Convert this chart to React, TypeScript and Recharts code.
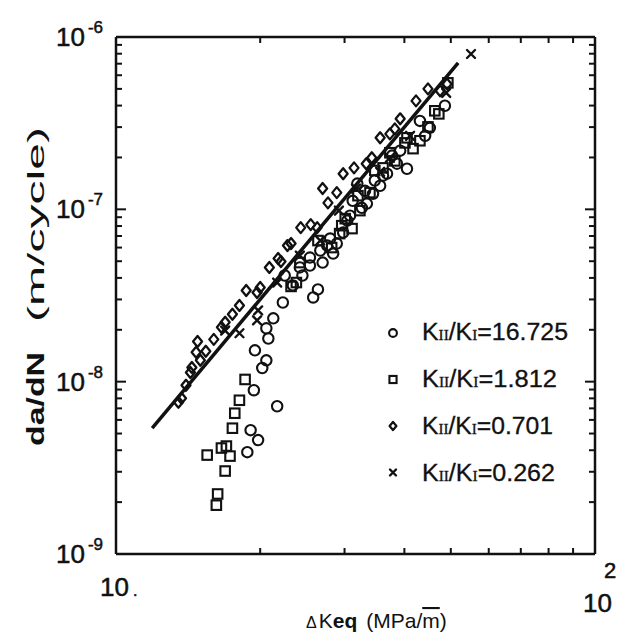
import { ScatterChart, Scatter, XAxis, YAxis, Legend } from "recharts";

// axis ticks (log decades with minor marks)
const X_TICKS = [10, 20, 30, 40, 50, 60, 70, 80, 90, 100];
const Y_TICKS = [
  1e-9, 2e-9, 3e-9, 4e-9, 5e-9, 6e-9, 7e-9, 8e-9, 9e-9,
  1e-8, 2e-8, 3e-8, 4e-8, 5e-8, 6e-8, 7e-8, 8e-8, 9e-8,
  1e-7, 2e-7, 3e-7, 4e-7, 5e-7, 6e-7, 7e-7, 8e-7, 9e-7,
  1e-6,
];

// KII/KI = 16.725
const CIRCLES = [
  { x: 18.8, y: 3.9e-9 }, { x: 19.1, y: 5.23e-9 }, { x: 19.8, y: 4.58e-9 },
  { x: 21.7, y: 7.2e-9 }, { x: 19.4, y: 8.92e-9 }, { x: 20.2, y: 1.2e-8 },
  { x: 20.6, y: 1.33e-8 }, { x: 19.5, y: 1.52e-8 }, { x: 20.8, y: 1.78e-8 },
  { x: 20.6, y: 2.04e-8 }, { x: 21.3, y: 2.33e-8 }, { x: 22.3, y: 2.88e-8 },
  { x: 23.4, y: 3.62e-8 }, { x: 24.5, y: 4.13e-8 }, { x: 25.8, y: 3.08e-8 },
  { x: 26.4, y: 3.43e-8 }, { x: 27.0, y: 4.91e-8 }, { x: 28.4, y: 5.54e-8 },
  { x: 24.2, y: 4.6e-8 }, { x: 25.4, y: 5.25e-8 }, { x: 28.9, y: 6.33e-8 },
  { x: 29.8, y: 7.33e-8 }, { x: 30.4, y: 8.6e-8 }, { x: 31.2, y: 1.12e-7 },
  { x: 31.9, y: 1.41e-7 }, { x: 32.6, y: 1.02e-7 }, { x: 33.4, y: 1.08e-7 },
  { x: 34.4, y: 1.23e-7 }, { x: 36.8, y: 1.61e-7 }, { x: 37.7, y: 2.05e-7 },
  { x: 38.6, y: 1.84e-7 }, { x: 40.5, y: 1.72e-7 }, { x: 43.1, y: 3.26e-7 },
  { x: 45.2, y: 2.97e-7 }, { x: 27.6, y: 6.16e-8 }, { x: 35.6, y: 1.37e-7 },
  { x: 22.5, y: 4.13e-8 }, { x: 36.1, y: 1.57e-7 }, { x: 34.7, y: 1.47e-7 },
  { x: 33.1, y: 1.28e-7 }, { x: 30.8, y: 9.19e-8 }, { x: 28.0, y: 6.77e-8 },
  { x: 26.7, y: 5.77e-8 }, { x: 25.4, y: 4.72e-8 }, { x: 39.2, y: 2.19e-7 },
  { x: 44.2, y: 2.67e-7 }, { x: 48.6, y: 3.99e-7 },
];

// KII/KI = 1.812
const SQUARES = [
  { x: 15.5, y: 3.75e-9 }, { x: 16.6, y: 4.12e-9 }, { x: 17.0, y: 4.23e-9 },
  { x: 17.3, y: 3.7e-9 }, { x: 16.9, y: 3.03e-9 }, { x: 16.3, y: 2.23e-9 },
  { x: 16.2, y: 1.92e-9 }, { x: 17.5, y: 5.37e-9 }, { x: 17.7, y: 6.56e-9 },
  { x: 18.1, y: 7.8e-9 }, { x: 18.6, y: 1.03e-8 }, { x: 23.2, y: 3.57e-8 },
  { x: 28.2, y: 6.0e-8 }, { x: 29.3, y: 7.23e-8 }, { x: 30.1, y: 8.83e-8 },
  { x: 32.3, y: 9.83e-8 }, { x: 33.9, y: 1.25e-7 }, { x: 36.1, y: 1.74e-7 },
  { x: 40.5, y: 2.6e-7 }, { x: 41.7, y: 2.25e-7 }, { x: 44.8, y: 3.01e-7 },
  { x: 47.2, y: 3.58e-7 }, { x: 49.3, y: 5.42e-7 }, { x: 31.1, y: 7.73e-8 },
  { x: 23.8, y: 3.76e-8 }, { x: 38.2, y: 1.91e-7 }, { x: 43.1, y: 2.5e-7 },
  { x: 32.0, y: 1.2e-7 }, { x: 34.7, y: 1.68e-7 }, { x: 37.3, y: 2.13e-7 },
  { x: 40.1, y: 2.43e-7 }, { x: 46.3, y: 3.73e-7 }, { x: 26.4, y: 6.59e-8 },
  { x: 24.2, y: 4.91e-8 }, { x: 29.6, y: 8.04e-8 },
];

// KII/KI = 0.701
const DIAMONDS = [
  { x: 13.7, y: 8.02e-9 }, { x: 14.3, y: 1.13e-8 }, { x: 14.4, y: 1.21e-8 },
  { x: 14.8, y: 1.71e-8 }, { x: 15.4, y: 1.5e-8 }, { x: 16.0, y: 1.76e-8 },
  { x: 16.6, y: 2.07e-8 }, { x: 17.5, y: 2.46e-8 }, { x: 18.7, y: 3.38e-8 },
  { x: 19.7, y: 3.29e-8 }, { x: 20.9, y: 4.6e-8 }, { x: 22.1, y: 4.98e-8 },
  { x: 23.2, y: 6.33e-8 }, { x: 24.3, y: 7.83e-8 }, { x: 25.5, y: 8.15e-8 },
  { x: 27.0, y: 1.32e-7 }, { x: 28.9, y: 1.25e-7 }, { x: 29.8, y: 1.61e-7 },
  { x: 31.4, y: 1.74e-7 }, { x: 33.3, y: 1.84e-7 }, { x: 34.2, y: 1.99e-7 },
  { x: 35.6, y: 2.6e-7 }, { x: 37.3, y: 2.74e-7 }, { x: 39.2, y: 3.35e-7 },
  { x: 42.3, y: 4.26e-7 }, { x: 44.8, y: 5.0e-7 }, { x: 49.1, y: 5.34e-7 },
  { x: 20.0, y: 3.52e-8 }, { x: 22.8, y: 6.16e-8 }, { x: 26.3, y: 7.83e-8 },
  { x: 27.7, y: 1.09e-7 }, { x: 18.1, y: 2.77e-8 }, { x: 16.9, y: 2.21e-8 },
  { x: 15.0, y: 1.33e-8 }, { x: 13.5, y: 7.6e-9 }, { x: 14.0, y: 9.53e-9 },
  { x: 14.7, y: 1.48e-8 }, { x: 21.8, y: 5.18e-8 }, { x: 38.2, y: 2.93e-7 },
  { x: 47.5, y: 4.87e-7 },
];

// KII/KI = 0.262
const CROSSES = [
  { x: 18.1, y: 1.91e-8 }, { x: 19.7, y: 2.27e-8 }, { x: 21.7, y: 3.76e-8 },
  { x: 29.2, y: 9.83e-8 }, { x: 31.7, y: 1.32e-7 }, { x: 35.6, y: 1.65e-7 },
  { x: 37.3, y: 1.99e-7 }, { x: 41.1, y: 2.67e-7 }, { x: 48.9, y: 4.74e-7 },
  { x: 55.1, y: 7.97e-7 }, { x: 24.2, y: 5.39e-8 }, { x: 26.7, y: 6.59e-8 },
  { x: 19.8, y: 2.59e-8 }, { x: 16.9, y: 1.98e-8 },
];

// fitted line end points
const FIT = [
  { x: 11.9, y: 5.37e-9 },
  { x: 51.8, y: 7.07e-7 },
];

const LEGEND_RATIOS = ["16.725", "1.812", "0.701", "0.262"];
const LEGEND_SHAPES = ["circle", "square", "diamond", "cross"];

const INK = "#111";
const SANS = "'Liberation Sans', Arial, sans-serif";
const SERIF = "'Liberation Serif', 'Times New Roman', serif";

function Marker({ kind, cx, cy, size = 1 }: { kind: string; cx: number; cy: number; size?: number }) {
  const sw = 2.1;
  if (kind === "circle") {
    return <circle cx={cx} cy={cy} r={5.2 * size} fill="none" stroke={INK} strokeWidth={sw} />;
  }
  if (kind === "square") {
    const s = 9.5 * size;
    return <rect x={cx - s / 2} y={cy - s / 2} width={s} height={s} fill="none" stroke={INK} strokeWidth={sw} />;
  }
  if (kind === "diamond") {
    const w = 4.5 * size, h = 5.5 * size;
    return (
      <path
        d={`M${cx},${cy - h} L${cx + w},${cy} L${cx},${cy + h} L${cx - w},${cy} Z`}
        fill="none" stroke={INK} strokeWidth={sw + 0.2} strokeLinejoin="round"
      />
    );
  }
  const s = 4 * size;
  return (
    <path
      d={`M${cx - s},${cy - s} L${cx + s},${cy + s} M${cx + s},${cy - s} L${cx - s},${cy + s}`}
      stroke={INK} strokeWidth={sw + 0.3} strokeLinecap="round"
    />
  );
}

const isDecade = (v: number) => Math.abs(Math.log10(v) - Math.round(Math.log10(v))) < 1e-6;

function LeftTick(props: any) {
  const { x, y, payload } = props;
  const v = payload.value;
  const major = isDecade(v);
  return (
    <g>
      <line x1={x} x2={x + (major ? 10 : 6)} y1={y} y2={y} stroke={INK} strokeWidth={2} />
      {major && (
        <text x={x - 13} y={y + 9} textAnchor="end" fontFamily={SANS} fill={INK} stroke={INK} strokeWidth={0.5}>
          <tspan fontSize={26}>10</tspan>
          <tspan fontSize={17} dx={3} dy={-13}>{`-${-Math.round(Math.log10(v))}`}</tspan>
        </text>
      )}
    </g>
  );
}

function RightTick(props: any) {
  const { x, y, payload } = props;
  const major = isDecade(payload.value);
  return <line x1={x} x2={x - (major ? 10 : 6)} y1={y} y2={y} stroke={INK} strokeWidth={2} />;
}

function BottomTick(props: any) {
  const { x, y, payload } = props;
  const v = payload.value;
  const edge = v === X_TICKS[0] || v === X_TICKS[X_TICKS.length - 1];
  return (
    <g>
      {!edge && <line x1={x} x2={x} y1={y} y2={y - 6} stroke={INK} strokeWidth={2} />}
      {v === X_TICKS[0] && (
        <text x={x - 16} y={y + 42} fontFamily={SANS} fontSize={26} fill={INK} stroke={INK} strokeWidth={0.5}>
          10<tspan dx={4} fontSize={16}>.</tspan>
        </text>
      )}
      {v === X_TICKS[X_TICKS.length - 1] && (
        <g fontFamily={SANS} fill={INK} stroke={INK} strokeWidth={0.5}>
          <text x={x - 12} y={y + 58} fontSize={26}>10</text>
          <text x={x + 9} y={y + 24} fontSize={22}>2</text>
        </g>
      )}
    </g>
  );
}

function TopTick(props: any) {
  const { x, y, payload } = props;
  const v = payload.value;
  if (v === X_TICKS[0] || v === X_TICKS[X_TICKS.length - 1]) return <g />;
  return <line x1={x} x2={x} y1={y} y2={y + 6} stroke={INK} strokeWidth={2} />;
}

function LegendBox() {
  const widths = [146, 135, 131, 133];
  return (
    <svg width={210} height={190} style={{ overflow: "visible" }}>
      {LEGEND_RATIOS.map((ratio, i) => (
        <g key={ratio}>
          <Marker kind={LEGEND_SHAPES[i]} cx={13} cy={23 + i * 46.5} size={0.75} />
          <text
            x={42}
            y={30 + i * 47}
            fontFamily={SANS}
            fontSize={23}
            fill={INK}
            stroke={INK}
            strokeWidth={0.3}
            textLength={widths[i]}
            lengthAdjust="spacingAndGlyphs"
          >
            K<tspan fontFamily={SERIF} fontSize={14}>II</tspan>/K<tspan fontFamily={SERIF} fontSize={14}>I</tspan>={ratio}
          </text>
        </g>
      ))}
    </svg>
  );
}

const axisLine = { stroke: INK, strokeWidth: 2.5 };

export default function App() {
  const series = [CIRCLES, SQUARES, DIAMONDS, CROSSES];
  return (
    <div style={{ position: "absolute", left: 0, top: 0, background: "#fff" }}>
      <ScatterChart width={621} height={640} margin={{ top: 36, right: 25, bottom: 85, left: 115 }}>
        <XAxis
          xAxisId="B" dataKey="x" type="number" scale="log" domain={[10, 100]} allowDataOverflow
          ticks={X_TICKS} interval={0} height={1} tickSize={0} tickMargin={0}
          tickLine={false} axisLine={axisLine} tick={<BottomTick />}
        />
        <XAxis
          xAxisId="T" orientation="top" dataKey="x" type="number" scale="log" domain={[10, 100]} allowDataOverflow
          ticks={X_TICKS} interval={0} height={1} tickSize={0} tickMargin={0}
          tickLine={false} axisLine={axisLine} tick={<TopTick />}
        />
        <YAxis
          yAxisId="L" dataKey="y" type="number" scale="log" domain={[1e-9, 1e-6]} allowDataOverflow
          ticks={Y_TICKS} interval={0} width={1} tickSize={0} tickMargin={0}
          tickLine={false} axisLine={axisLine} tick={<LeftTick />}
        />
        <YAxis
          yAxisId="R" orientation="right" dataKey="y" type="number" scale="log" domain={[1e-9, 1e-6]} allowDataOverflow
          ticks={Y_TICKS} interval={0} width={1} tickSize={0} tickMargin={0}
          tickLine={false} axisLine={axisLine} tick={<RightTick />}
        />
        {series.map((data, i) => (
          <Scatter
            key={LEGEND_RATIOS[i]}
            name={`KII/KI=${LEGEND_RATIOS[i]}`}
            xAxisId="B"
            yAxisId="L"
            data={data}
            isAnimationActive={false}
            shape={(p: any) => <Marker kind={LEGEND_SHAPES[i]} cx={p.cx} cy={p.cy} />}
          />
        ))}
        <Scatter
          xAxisId="B"
          yAxisId="L"
          data={FIT}
          line={{ stroke: INK, strokeWidth: 3.5 }}
          shape={() => <g />}
          legendType="none"
          isAnimationActive={false}
        />
        <Legend
          content={<LegendBox />}
          layout="vertical"
          align="center"
          verticalAlign="middle"
          wrapperStyle={{ left: 380, top: 310, width: 210, height: 190 }}
        />
        <text transform="translate(44,446) rotate(-90)" fontFamily={SANS} fontSize={24} fontWeight="bold" fill={INK} textLength={94} lengthAdjust="spacingAndGlyphs">
          da/dN
        </text>
        <text transform="translate(44,322) rotate(-90)" fontFamily={SANS} fontSize={24} fill={INK} textLength={195} lengthAdjust="spacingAndGlyphs">
          (m/cycle)
        </text>
        <text x={306} y={628} fontFamily={SANS} fontSize={21} fill={INK}>
          <tspan fontSize={16}>Δ</tspan>
          <tspan dx={2}>K</tspan>
          <tspan fontWeight="bold">eq</tspan>
          <tspan dx={9}>(MPa/</tspan>
          <tspan style={{ textDecoration: "overline" }}>m</tspan>
          <tspan>)</tspan>
        </text>
      </ScatterChart>
    </div>
  );
}
